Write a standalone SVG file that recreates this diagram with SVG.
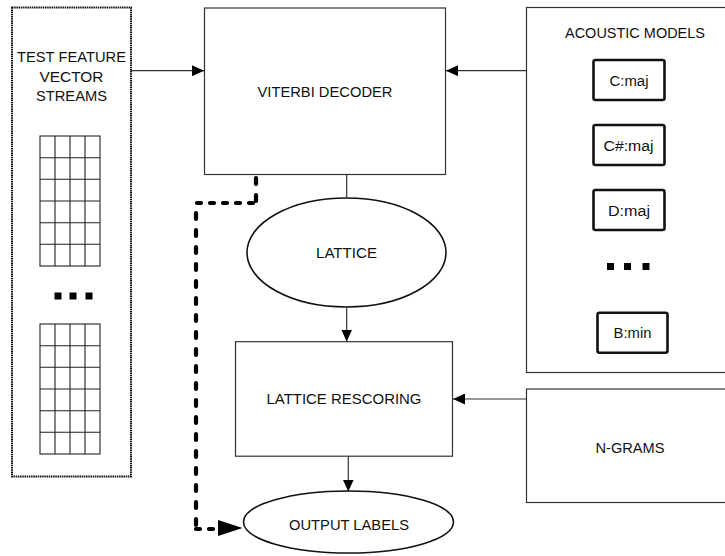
<svg xmlns="http://www.w3.org/2000/svg" width="725" height="556" viewBox="0 0 725 556">
<defs>
<style>
.box{fill:#fff;stroke:#333;stroke-width:1.2}
.mbox{fill:#fff;stroke:#111;stroke-width:2.6}
.ell{fill:#fff;stroke:#111;stroke-width:1.6}
.t{font-family:"Liberation Sans",Arial,sans-serif;font-size:15.5px;fill:#111;text-anchor:middle}
.s{font-family:"Liberation Sans",Arial,sans-serif;font-size:14px;fill:#111;text-anchor:middle}
.grid{fill:none;stroke:#222;stroke-width:1.1}
.conn{fill:none;stroke:#333;stroke-width:1.2}
.dv{fill:none;stroke:#000;stroke-width:4.2;stroke-linecap:round;stroke-dasharray:6 11}
.dh{fill:none;stroke:#000;stroke-width:4.2;stroke-linecap:round;stroke-dasharray:4 9}
</style>
<marker id="ah" markerWidth="12" markerHeight="11" refX="12" refY="5.5" orient="auto" markerUnits="userSpaceOnUse">
<path d="M0,0 L12,5.5 L0,11 Z" fill="#000"/>
</marker>
</defs>

<g id="test-feature">
<rect x="12" y="7.5" width="119" height="469" fill="#fff" stroke="#111" stroke-width="2" stroke-dasharray="1.5 0.7"/>
<text class="t" x="71.5" y="61.5" textLength="109" lengthAdjust="spacingAndGlyphs">TEST FEATURE</text>
<text class="t" x="71.5" y="81.5" textLength="64" lengthAdjust="spacingAndGlyphs">VECTOR</text>
<text class="t" x="71.5" y="100.5" textLength="71" lengthAdjust="spacingAndGlyphs">STREAMS</text>
<g class="grid">
<rect x="40" y="136" width="60" height="130"/>
<path d="M55,136V266M70,136V266M85,136V266M40,157.7H100M40,179.3H100M40,201H100M40,222.7H100M40,244.3H100"/>
<rect x="40" y="324" width="60" height="130"/>
<path d="M55,324V454M70,324V454M85,324V454M40,345.7H100M40,367.3H100M40,389H100M40,410.7H100M40,432.3H100"/>
</g>
<rect x="54.5" y="292.5" width="7" height="7" fill="#000"/>
<rect x="69.5" y="292.5" width="7" height="7" fill="#000"/>
<rect x="85.5" y="292.5" width="7" height="7" fill="#000"/>
</g>

<g id="viterbi">
<rect class="box" x="204.5" y="8" width="241" height="166.5"/>
<text class="t" x="325" y="97" textLength="135" lengthAdjust="spacingAndGlyphs">VITERBI DECODER</text>
</g>

<g id="lattice">
<ellipse class="ell" cx="346.5" cy="252.5" rx="99.5" ry="54.5"/>
<text class="t" x="346.5" y="258" textLength="61" lengthAdjust="spacingAndGlyphs">LATTICE</text>
</g>

<g id="rescoring">
<rect class="box" x="235.5" y="341.7" width="217" height="114.5"/>
<text class="t" x="344" y="404" textLength="155" lengthAdjust="spacingAndGlyphs">LATTICE RESCORING</text>
</g>

<g id="output">
<ellipse class="ell" cx="348.5" cy="522" rx="105" ry="31"/>
<text class="t" x="349" y="530" textLength="120" lengthAdjust="spacingAndGlyphs">OUTPUT LABELS</text>
</g>

<g id="acoustic">
<rect class="box" x="526.5" y="7.5" width="205" height="365"/>
<text class="t" x="635" y="38" textLength="140" lengthAdjust="spacingAndGlyphs">ACOUSTIC MODELS</text>
<rect class="mbox" x="593.5" y="60" width="71" height="40" rx="2"/>
<text class="s" x="629" y="86" textLength="39" lengthAdjust="spacingAndGlyphs">C:maj</text>
<rect class="mbox" x="593.5" y="125" width="71" height="40" rx="2"/>
<text class="s" x="628.5" y="150.5" textLength="50" lengthAdjust="spacingAndGlyphs">C#:maj</text>
<rect class="mbox" x="593.5" y="190" width="71" height="40" rx="2"/>
<text class="s" x="629" y="215.5" textLength="42" lengthAdjust="spacingAndGlyphs">D:maj</text>
<rect x="607" y="263" width="7" height="7" fill="#000"/>
<rect x="624" y="263" width="7" height="7" fill="#000"/>
<rect x="642.5" y="263" width="7" height="7" fill="#000"/>
<rect class="mbox" x="597.5" y="312.7" width="70" height="40" rx="2"/>
<text class="s" x="632.5" y="338" textLength="38" lengthAdjust="spacingAndGlyphs">B:min</text>
</g>

<g id="ngrams">
<rect class="box" x="526.5" y="389" width="205" height="113.5"/>
<text class="t" x="630" y="452.5" textLength="69" lengthAdjust="spacingAndGlyphs">N-GRAMS</text>
</g>

<g id="connectors">
<line class="conn" x1="131" y1="70.7" x2="204" y2="70.7" marker-end="url(#ah)"/>
<line class="conn" x1="526.5" y1="70.7" x2="446" y2="70.7" marker-end="url(#ah)"/>
<line class="conn" x1="346.7" y1="174.5" x2="346.7" y2="198"/>
<line class="conn" x1="346.7" y1="307" x2="346.7" y2="341.5" marker-end="url(#ah)"/>
<line class="conn" x1="348.3" y1="456.2" x2="348.3" y2="491.5" marker-end="url(#ah)"/>
<line class="conn" x1="526.5" y1="399" x2="453" y2="399" marker-end="url(#ah)"/>
<path class="dv" d="M256,178 V203"/>
<path class="dh" d="M253,203 H196"/>
<path class="dv" d="M196,213 V529"/>
<path class="dh" d="M196,529 H220"/>
<path d="M218,520 L242.5,528 L218,536 Z" fill="#000"/>
</g>
</svg>
